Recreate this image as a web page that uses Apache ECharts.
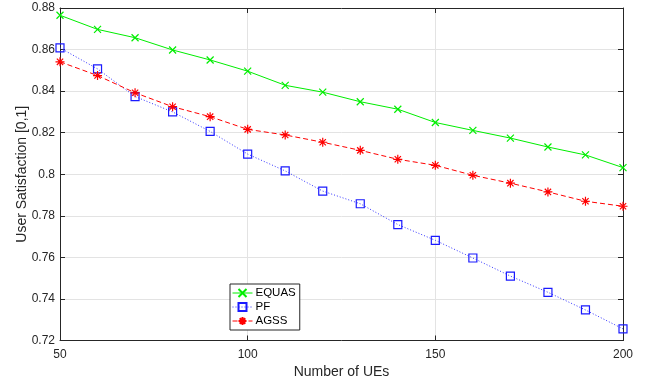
<!DOCTYPE html>
<html>
<head>
<meta charset="utf-8">
<script src="https://cdn.jsdelivr.net/npm/echarts@6/dist/echarts.min.js"></script>
<style>
  html, body { margin: 0; padding: 0; background: #fff; }
  #chart { width: 651px; height: 381px; }
</style>
</head>
<body>
<div id="chart"></div>
<script>
// number of UEs
const ues = [50, 60, 70, 80, 90, 100, 110, 120, 130, 140, 150, 160, 170, 180, 190, 200];
const equas = [0.8765, 0.8697, 0.8657, 0.8598, 0.8550, 0.8496, 0.8428, 0.8395, 0.8349, 0.8313, 0.8249, 0.8211, 0.8174, 0.8131, 0.8093, 0.8032];
const pf = [0.8608, 0.8507, 0.8374, 0.8300, 0.8206, 0.8097, 0.8016, 0.7919, 0.7858, 0.7758, 0.7682, 0.7597, 0.7510, 0.7432, 0.7347, 0.7256];
const agss = [0.8541, 0.8475, 0.8392, 0.8325, 0.8277, 0.8216, 0.8189, 0.8154, 0.8115, 0.8072, 0.8043, 0.7995, 0.7957, 0.7915, 0.7870, 0.7846];

const font = 'Liberation Sans, Arial, sans-serif';
const axisColor = '#262626';
const gridColor = '#e3e3e3';

// marker paths (stroked only)
const crossPath = 'path://M0,0L10,10M10,0L0,10';
const starPath = 'path://M5,0L5,10M0,5L10,5M1.5,1.5L8.5,8.5M8.5,1.5L1.5,8.5';

let pairs = (ys) => ues.map((x, i) => [x, ys[i]]);

let chart = echarts.init(document.getElementById('chart'));

let option = {
  backgroundColor: '#fff',
  animation: false,
  textStyle: { fontFamily: font },
  grid: { left: 60, right: 28, top: 8, bottom: 40.5, outerBoundsMode: 'none', containLabel: false },
  legend: {
    orient: 'vertical',
    left: 230,
    top: 284,
    backgroundColor: '#fff',
    borderColor: axisColor,
    borderWidth: 1,
    borderRadius: 0,
    padding: [3, 4, 3, 2],
    itemGap: 2,
    itemWidth: 20,
    itemHeight: 10,
    lineStyle: { width: 1 },
    textStyle: { fontSize: 11.5, color: '#000', fontFamily: font, padding: [0, 0, 0, -2] },
    data: ['EQUAS', 'PF', 'AGSS']
  },
  xAxis: [
    {
      type: 'value', min: 50, max: 200, interval: 50,
      name: 'Number of UEs', nameLocation: 'middle', nameGap: 25, nameMoveOverlap: false,
      nameTextStyle: { fontSize: 14, color: axisColor },
      axisLine: { show: true, onZero: false, lineStyle: { color: axisColor, width: 1 } },
      axisTick: { inside: true, length: 5, lineStyle: { color: axisColor } },
      axisLabel: { fontSize: 12, color: axisColor, margin: 8 },
      splitLine: { show: true, lineStyle: { color: gridColor, width: 1 } }
    },
    {
      type: 'value', min: 50, max: 200, interval: 50, position: 'top',
      axisLine: { show: true, onZero: false, lineStyle: { color: axisColor, width: 1 } },
      axisTick: { inside: true, length: 5, lineStyle: { color: axisColor } },
      axisLabel: { show: false },
      splitLine: { show: false }
    }
  ],
  yAxis: [
    {
      type: 'value', min: 0.72, max: 0.88, interval: 0.02,
      name: 'User Satisfaction [0,1]', nameLocation: 'middle', nameGap: 31, nameMoveOverlap: false,
      nameTextStyle: { fontSize: 14, color: axisColor },
      axisLine: { show: true, onZero: false, lineStyle: { color: axisColor, width: 1 } },
      axisTick: { inside: true, length: 5, lineStyle: { color: axisColor } },
      axisLabel: {
        fontSize: 12, color: axisColor, margin: 5,
        formatter: (v) => String(parseFloat(v.toFixed(2)))
      },
      splitLine: { show: true, lineStyle: { color: gridColor, width: 1 } }
    },
    {
      type: 'value', min: 0.72, max: 0.88, interval: 0.02, position: 'right',
      axisLine: { show: true, onZero: false, lineStyle: { color: axisColor, width: 1 } },
      axisTick: { inside: true, length: 5, lineStyle: { color: axisColor } },
      axisLabel: { show: false },
      splitLine: { show: false }
    }
  ],
  series: [
    {
      name: 'EQUAS', type: 'line', data: pairs(equas),
      symbol: crossPath, symbolSize: 7,
      lineStyle: { color: '#00ee00', width: 1 },
      itemStyle: { color: 'rgba(0,0,0,0)', borderColor: '#00ee00', borderWidth: 1.2 }
    },
    {
      name: 'PF', type: 'line', data: pairs(pf),
      symbol: 'rect', symbolSize: 8,
      lineStyle: { color: '#3333ff', width: 1, type: [1, 2] },
      itemStyle: { color: 'rgba(255,255,255,0)', borderColor: '#1a1aff', borderWidth: 1.2 }
    },
    {
      name: 'AGSS', type: 'line', data: pairs(agss),
      symbol: starPath, symbolSize: 9,
      lineStyle: { color: '#ff0000', width: 1, type: [5, 3] },
      itemStyle: { color: 'rgba(0,0,0,0)', borderColor: '#ff0000', borderWidth: 1.2 }
    }
  ]
};

chart.setOption(option);
</script>
</body>
</html>
